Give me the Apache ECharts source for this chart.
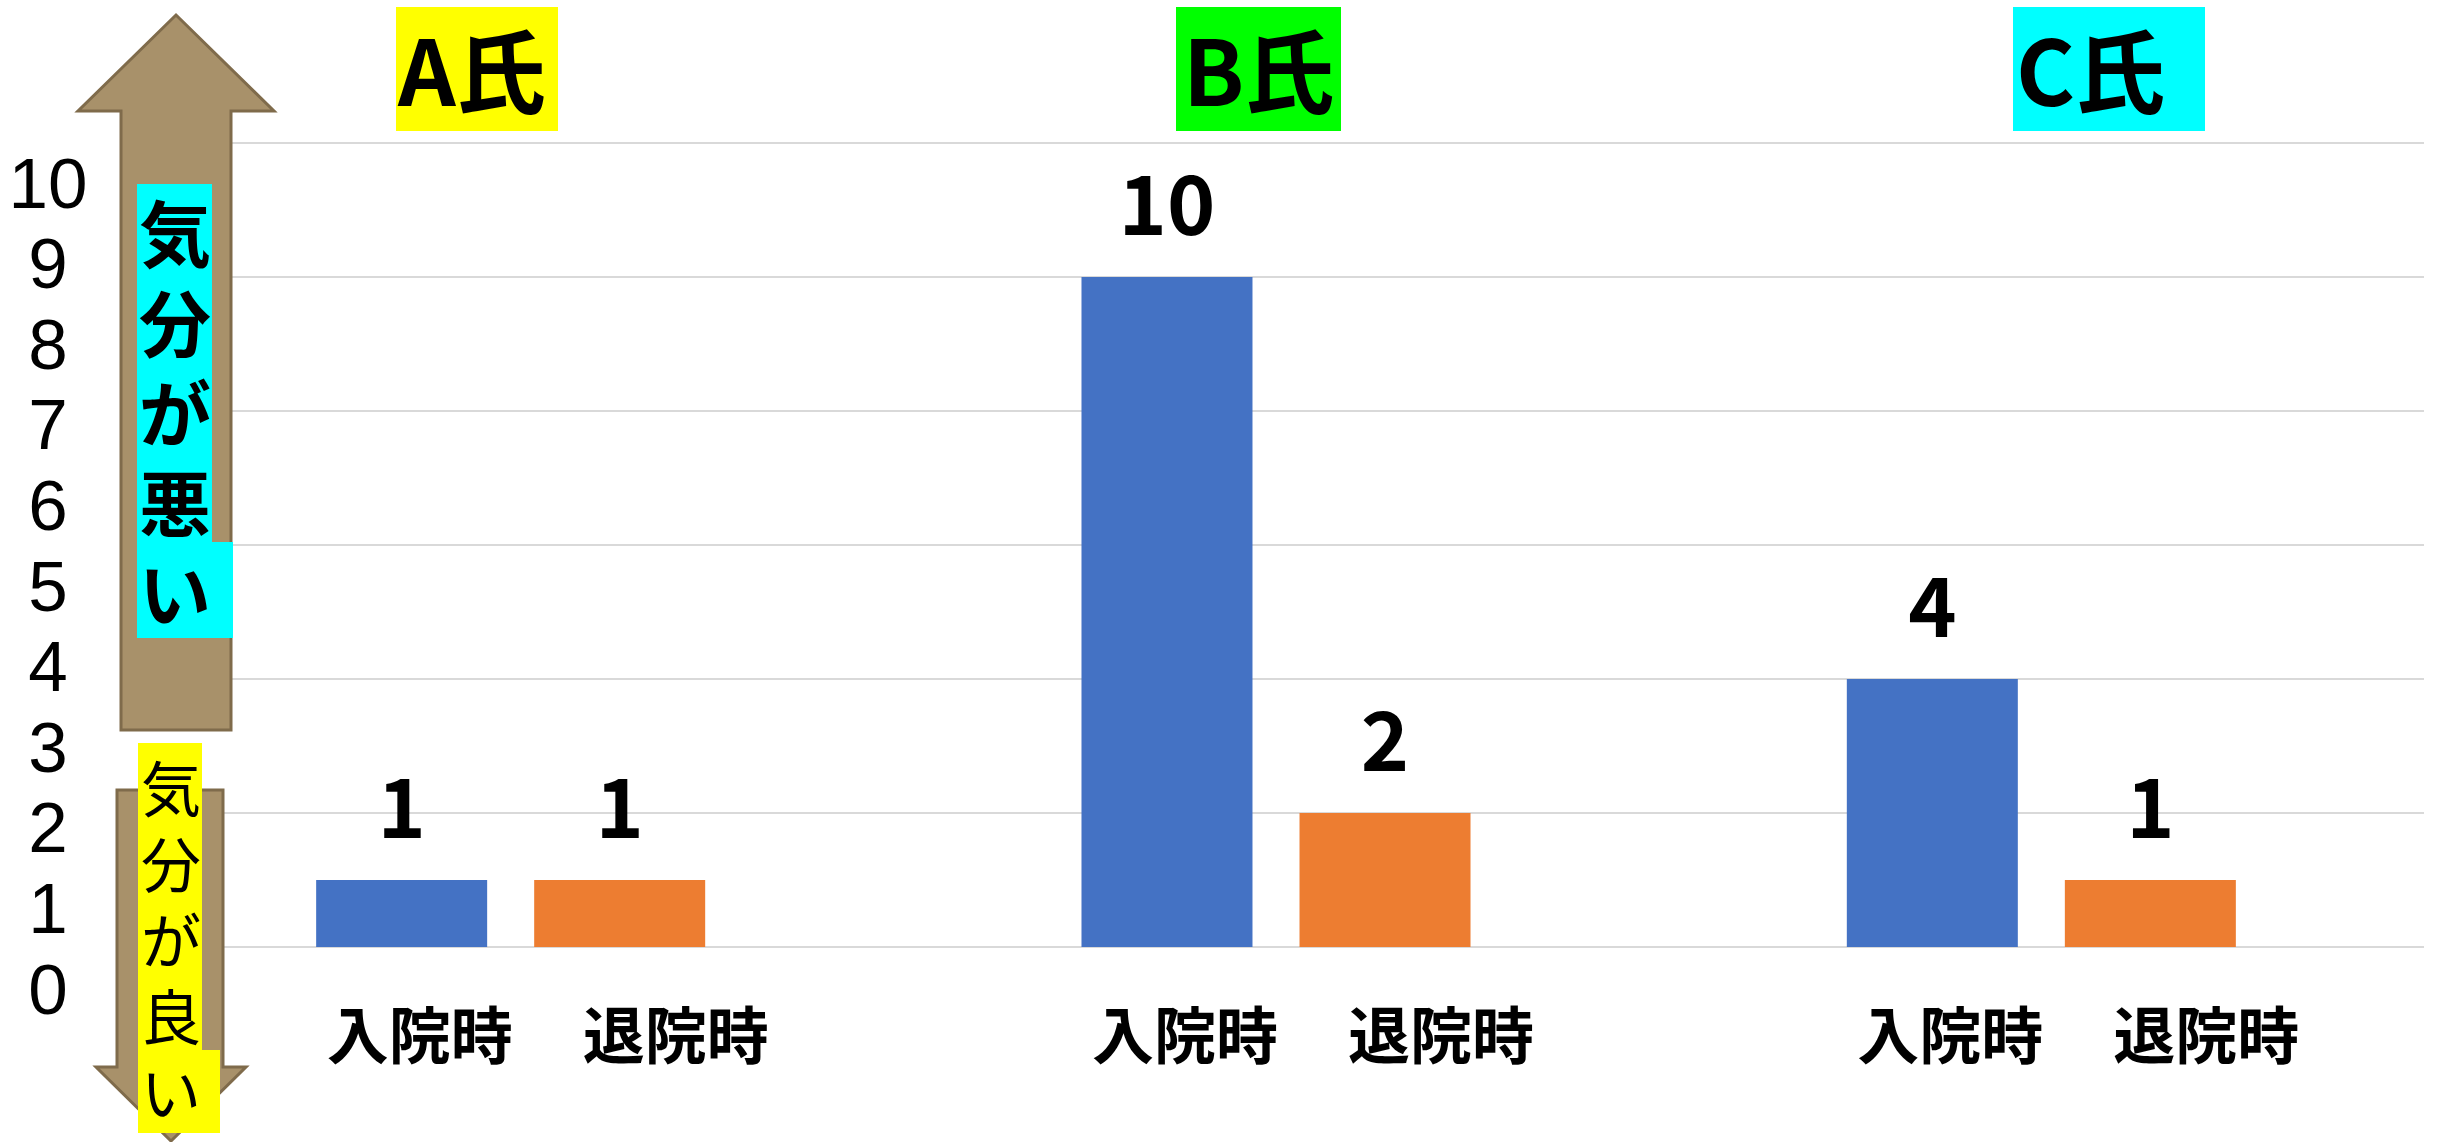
<!DOCTYPE html>
<html>
<head>
<meta charset="utf-8">
<script src="https://cdn.jsdelivr.net/npm/echarts@6/dist/echarts.min.js"></script>
<style>
	html, body { margin: 0; padding: 0; background: #fff; }
	#chart { width: 2442px; height: 1142px; }
</style>
</head>
<body>
<div id="chart"></div>
<script>
// data
const persons = ['A氏', 'B氏', 'C氏'];
const personColors = ['#FFFF00', '#00FF00', '#00FFFF'];
const seriesNames = ['入院時', '退院時'];
const admission = [1, 10, 4];
const discharge = [1, 2, 1];
const leftTicks = ['0', '1', '2', '3', '4', '5', '6', '7', '8', '9', '10'];
const worseText = ['気', '分', 'が', '悪', 'い'];
const betterText = ['気', '分', 'が', '良', 'い'];

const jp = '"Noto Sans CJK JP", "Noto Sans", sans-serif';
const arrowFill = '#A8916A';
const arrowStroke = '#7F6B4B';

const chart = echarts.init(document.getElementById('chart'), null, { renderer: 'svg' });

// title boxes (x of box left, box right, text left)
const titleBoxes = [
	[396, 558, 398],
	[1176, 1341, 1183],
	[2013, 2205, 2016],
];
const titleGraphics = [];
persons.forEach((p, i) => {
	const b = titleBoxes[i];
	titleGraphics.push({
		type: 'rect',
		z: 120,
		shape: { x: b[0], y: 7, width: b[1] - b[0], height: 124 },
		style: { fill: personColors[i] },
	});
	titleGraphics.push({
		type: 'text',
		z: 121,
		x: b[2],
		y: 67,
		style: {
			text: p,
			font: 'bold 90px ' + jp,
			fill: '#000',
			align: 'left',
			verticalAlign: 'middle',
		},
	});
});

const labelStyle = {
	show: true,
	position: 'top',
	distance: 37,
	fontSize: 82,
	lineHeight: 82,
	fontWeight: 'bold',
	fontFamily: jp,
	color: '#000',
};

const option = {
	backgroundColor: '#fff',
	animation: false,
	grid: [
		{ left: 128, right: 18, top: 143, bottom: 1142 - 947 },
		{ left: 60, width: 10, top: 183, height: 806 },
	],
	xAxis: [
		{
			type: 'category',
			gridIndex: 0,
			data: persons,
			axisLine: { show: false },
			axisTick: { show: false },
			axisLabel: {
				margin: 54,
				padding: [0, 0, 0, 74],
				formatter: () => '{a|' + seriesNames[0] + '}{b|' + seriesNames[1] + '}',
				rich: {
					a: { width: 256, align: 'center', fontSize: 62, lineHeight: 62, fontWeight: 'bold', fontFamily: jp, color: '#000' },
					b: { width: 256, align: 'center', fontSize: 62, lineHeight: 62, fontWeight: 'bold', fontFamily: jp, color: '#000' },
				},
			},
		},
		{
			type: 'value',
			gridIndex: 1,
			show: false,
		},
	],
	yAxis: [
		{
			type: 'value',
			gridIndex: 0,
			min: 0,
			max: 12,
			interval: 2,
			axisLabel: { show: false },
			axisLine: { show: false },
			axisTick: { show: false },
			splitLine: { lineStyle: { color: '#D9D9D9', width: 2 } },
		},
		{
			type: 'value',
			gridIndex: 1,
			min: 0,
			max: 10,
			interval: 1,
			axisLine: { show: false },
			axisTick: { show: false },
			splitLine: { show: false },
			axisLabel: {
				align: 'center',
				margin: 12,
				fontSize: 71,
				lineHeight: 60,
				fontFamily: '"Liberation Sans", sans-serif',
				color: '#000',
				formatter: (v) => leftTicks[v],
			},
		},
	],
	series: [
		{
			name: seriesNames[0],
			type: 'bar',
			data: admission,
			barWidth: 171,
			barGap: '27.5%',
			itemStyle: { color: '#4472C4' },
			label: labelStyle,
		},
		{
			name: seriesNames[1],
			type: 'bar',
			data: discharge,
			barWidth: 171,
			barGap: '27.5%',
			itemStyle: { color: '#ED7D31' },
			label: labelStyle,
		},
	],
	graphic: [
		// up arrow
		{
			type: 'polygon',
			z: 100,
			shape: {
				points: [[176, 15], [274, 111], [231, 111], [231, 730], [121, 730], [121, 111], [78, 111]],
			},
			style: { fill: arrowFill, stroke: arrowStroke, lineWidth: 3 },
		},
		// down arrow
		{
			type: 'polygon',
			z: 100,
			shape: {
				points: [[117, 790], [223, 790], [223, 1067], [246, 1067], [171, 1141], [96, 1067], [117, 1067]],
			},
			style: { fill: arrowFill, stroke: arrowStroke, lineWidth: 3 },
		},
		// cyan label boxes
		{ type: 'rect', z: 110, shape: { x: 137, y: 184, width: 75, height: 358 }, style: { fill: '#00FFFF' } },
		{ type: 'rect', z: 110, shape: { x: 137, y: 542, width: 96, height: 96 }, style: { fill: '#00FFFF' } },
		{
			type: 'text',
			z: 111,
			x: 175,
			y: 184,
			style: {
				text: worseText.join('\n'),
				font: 'bold 72px ' + jp,
				lineHeight: 90,
				fill: '#000',
				align: 'center',
				verticalAlign: 'top',
			},
		},
		// yellow label boxes
		{ type: 'rect', z: 110, shape: { x: 138, y: 743, width: 64, height: 307 }, style: { fill: '#FFFF00' } },
		{ type: 'rect', z: 110, shape: { x: 138, y: 1050, width: 82, height: 83 }, style: { fill: '#FFFF00' } },
		{
			type: 'text',
			z: 111,
			x: 171,
			y: 747,
			style: {
				text: betterText.join('\n'),
				font: '60px ' + jp,
				lineHeight: 76,
				fill: '#000',
				align: 'center',
				verticalAlign: 'top',
			},
		},
	].concat(titleGraphics),
};

chart.setOption(option);
</script>
</body>
</html>
